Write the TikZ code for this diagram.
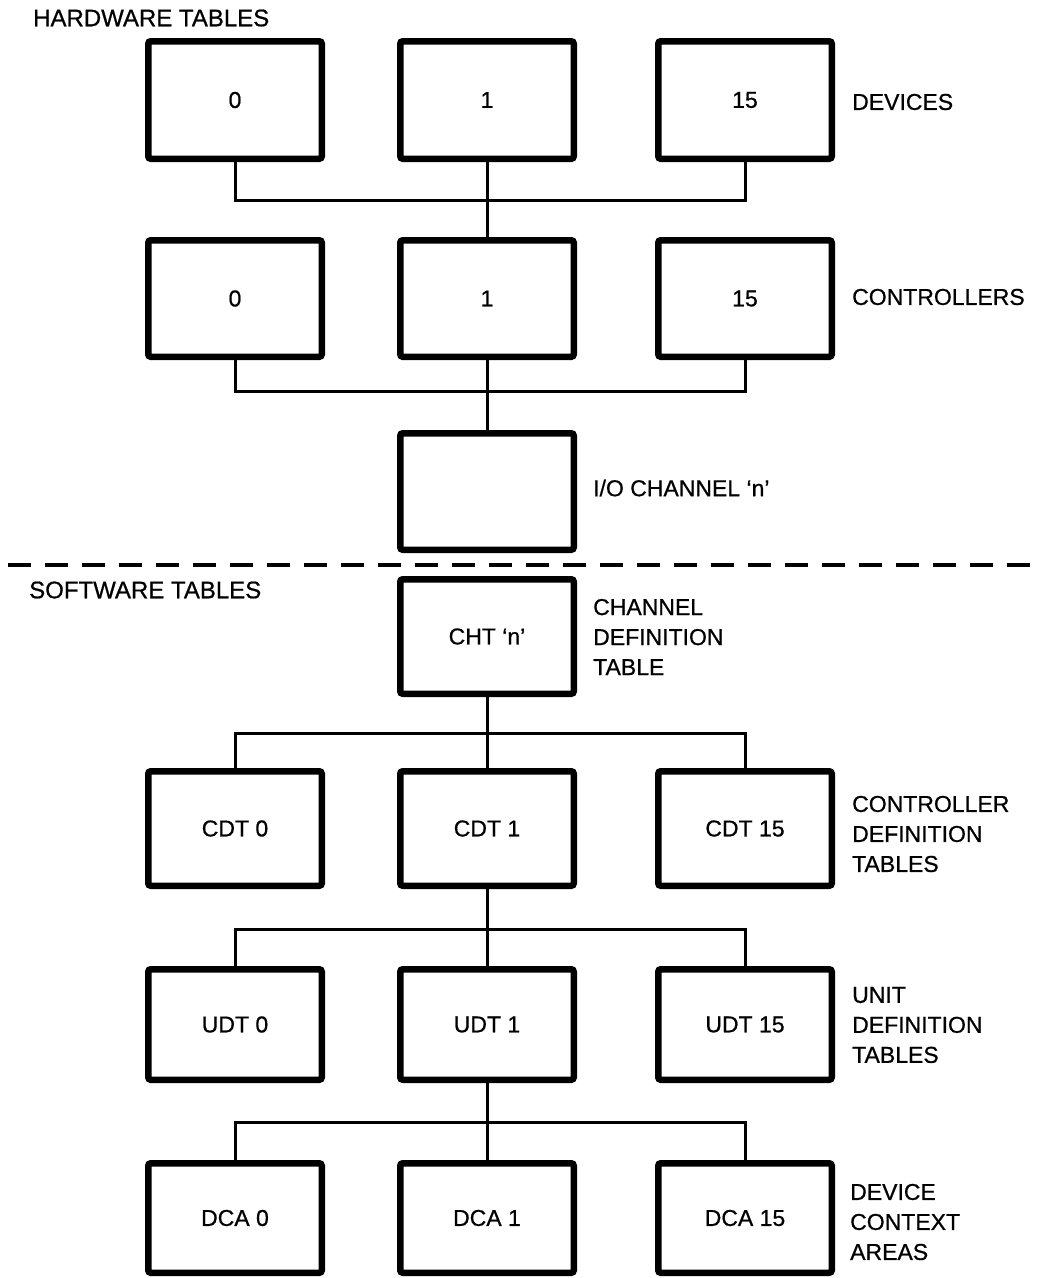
\documentclass[tikz,border=0pt]{standalone}
\usepackage{fontspec}
\setmainfont{Liberation Sans}[FakeBold=0.7]
\begin{document}
\begin{tikzpicture}[x=1pt,y=-1pt,
  tbl/.style={draw, line width=6.5pt, rounded corners=2.5pt, minimum width=173.5pt,
    inner sep=0pt, font=\fontsize{23}{26}\selectfont},
  conn/.style={line width=3pt},
  sidelbl/.style={anchor=west, align=left, inner sep=0pt, font=\fontsize{23}{30}\selectfont},
  divider/.style={line width=4pt, dash pattern=on 23pt off 14pt}]
\useasboundingbox (0,0) rectangle (1043,1278);
\fill[white] (0,0) rectangle (1043,1278);

% hardware
\node[sidelbl, font=\fontsize{24}{30}\selectfont] (hw) at (33,18) {HARDWARE TABLES};
\node[tbl, minimum height=117.5pt] (d0) at (235,100) {0};
\node[tbl, minimum height=117.5pt] (d1) at (487,100) {1};
\node[tbl, minimum height=117.5pt] (d15) at (745,100) {15};
\node[sidelbl] (devl) at (852,102) {DEVICES};

\node[tbl, minimum height=116.5pt] (c0) at (235,298.5) {0};
\node[tbl, minimum height=116.5pt] (c1) at (487,298.5) {1};
\node[tbl, minimum height=116.5pt] (c15) at (745,298.5) {15};
\node[sidelbl] (ctll) at (852,297) {CONTROLLERS};

\node[tbl, minimum height=116.5pt] (io) at (487,491.5) {};
\node[sidelbl] (iol) at (593,488) {I/O CHANNEL ‘n’};

\coordinate (bus1) at (487,200);
\coordinate (bus2) at (487,391);
\draw[conn] (d0.south) |- (bus1) -| (d15.south);
\draw[conn] (d1.south) -- (c1.north);
\draw[conn] (c0.south) |- (bus2) -| (c15.south);
\draw[conn] (c1.south) -- (io.north);

% divider
\coordinate (dl) at (8,565);
\coordinate (dr) at (1043,565);
\draw[divider] (dl) -- (dr);

% software
\node[sidelbl, font=\fontsize{24}{30}\selectfont] (sw) at (29,590) {SOFTWARE TABLES};
\node[tbl, minimum height=114.5pt] (cht) at (487,636.5) {CHT ‘n’};
\node[sidelbl] (chtl) at (593,637) {CHANNEL\\DEFINITION\\TABLE};

\node[tbl, minimum height=114.5pt] (cdt0) at (235,828.5) {CDT 0};
\node[tbl, minimum height=114.5pt] (cdt1) at (487,828.5) {CDT 1};
\node[tbl, minimum height=114.5pt] (cdt15) at (745,828.5) {CDT 15};
\node[sidelbl] (cdtl) at (852,834) {CONTROLLER\\DEFINITION\\TABLES};

\node[tbl, minimum height=110.5pt] (udt0) at (235,1024.5) {UDT 0};
\node[tbl, minimum height=110.5pt] (udt1) at (487,1024.5) {UDT 1};
\node[tbl, minimum height=110.5pt] (udt15) at (745,1024.5) {UDT 15};
\node[sidelbl] (udtl) at (852,1025) {UNIT\\DEFINITION\\TABLES};

\node[tbl, minimum height=109.5pt] (dca0) at (235,1218) {DCA 0};
\node[tbl, minimum height=109.5pt] (dca1) at (487,1218) {DCA 1};
\node[tbl, minimum height=109.5pt] (dca15) at (745,1218) {DCA 15};
\node[sidelbl] (dcal) at (850,1222) {DEVICE\\CONTEXT\\AREAS};

\coordinate (bus3) at (487,733);
\coordinate (bus4) at (487,929);
\coordinate (bus5) at (487,1122);
\draw[conn] (cdt0.north) |- (bus3) -| (cdt15.north);
\draw[conn] (cht.south) -- (cdt1.north);
\draw[conn] (udt0.north) |- (bus4) -| (udt15.north);
\draw[conn] (cdt1.south) -- (udt1.north);
\draw[conn] (dca0.north) |- (bus5) -| (dca15.north);
\draw[conn] (udt1.south) -- (dca1.north);
\end{tikzpicture}
\end{document}
